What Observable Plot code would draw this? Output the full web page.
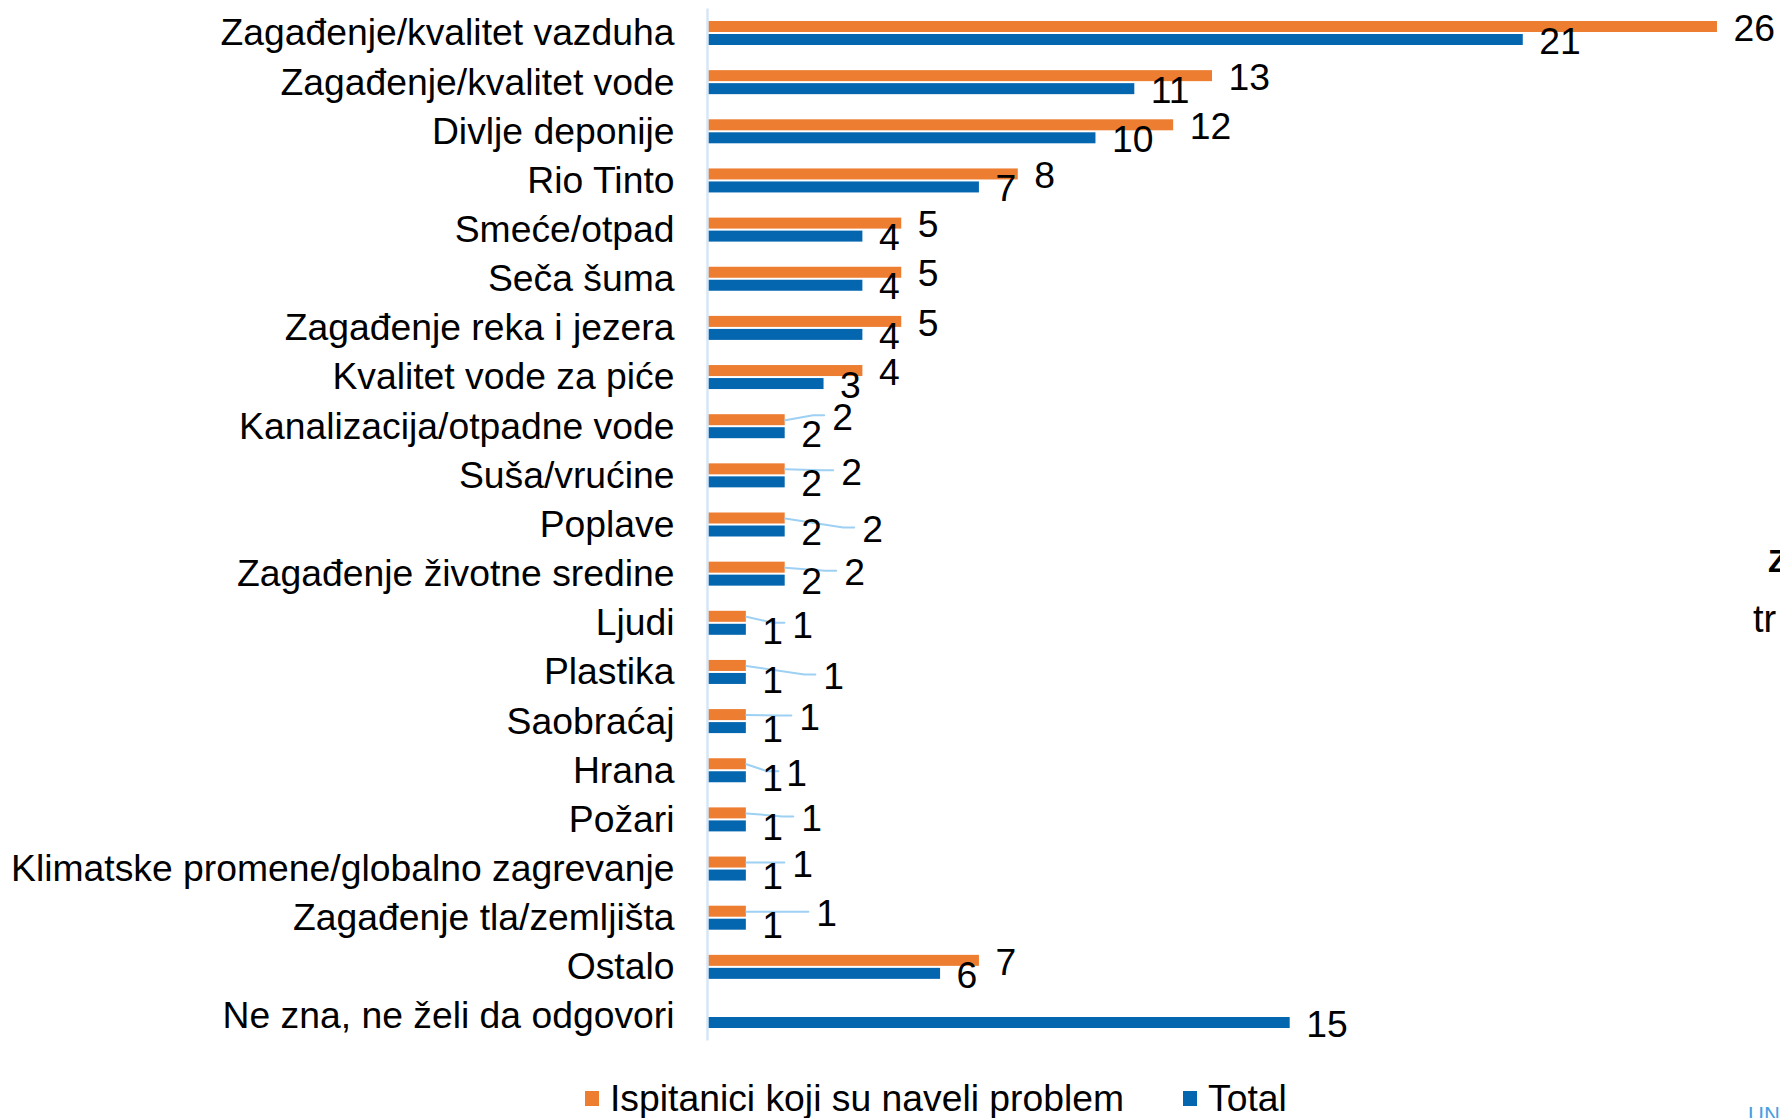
<!DOCTYPE html>
<html><head><meta charset="utf-8">
<script src="https://cdn.jsdelivr.net/npm/d3@7"></script>
<script src="https://cdn.jsdelivr.net/npm/@observablehq/plot@0.6"></script>
<style>
html,body{margin:0;padding:0;background:#fff;width:1780px;height:1118px;overflow:hidden;position:relative;font-family:Arial,"Liberation Sans",sans-serif;color:#000;}
#chart{position:absolute;left:0;top:0;}
.legend{position:absolute;top:1078px;left:585px;display:flex;align-items:center;font-size:37.3px;line-height:40px;white-space:nowrap;}
.sw{display:inline-block;width:14px;height:15px;margin-right:11px;}
.side{position:absolute;white-space:nowrap;}
</style></head><body>
<div id="chart"></div>
<div class="legend" id="legend"></div>
<div class="side" style="left:1768px;top:545px;font-size:32px;line-height:32px;font-weight:bold;">Z</div>
<div class="side" style="left:1753px;top:600px;font-size:38px;line-height:38px;">tr</div>
<div class="side" style="left:1748px;top:1104px;font-size:22px;line-height:22px;color:#4a9fe0;">UN</div>
<script>
const categories = [
  "Zagađenje/kvalitet vazduha",
  "Zagađenje/kvalitet vode",
  "Divlje deponije",
  "Rio Tinto",
  "Smeće/otpad",
  "Seča šuma",
  "Zagađenje reka i jezera",
  "Kvalitet vode za piće",
  "Kanalizacija/otpadne vode",
  "Suša/vrućine",
  "Poplave",
  "Zagađenje životne sredine",
  "Ljudi",
  "Plastika",
  "Saobraćaj",
  "Hrana",
  "Požari",
  "Klimatske promene/globalno zagrevanje",
  "Zagađenje tla/zemljišta",
  "Ostalo",
  "Ne zna, ne želi da odgovori"
];
const respondents = [26,13,12,8,5,5,5,4,2,2,2,2,1,1,1,1,1,1,1,7,null];
const total       = [21,11,10,7,4,4,4,3,2,2,2,2,1,1,1,1,1,1,1,6,15];
const seriesNames = ["Ispitanici koji su naveli problem","Total"];
const colors = ["#ED7D31","#0566B0"];
// layout: pixel nudges [dx, dy] for respondent labels moved aside with leader lines
const labelNudge = [[0,0],[0,0],[0,0],[0,0],[0,0],[0,0],[0,0],[0,0],
  [31,-4],[40,2],[61,10],[43,4],[30,7],[61,9.5],[37,1.4],[24,8],[39,4],[30,1],[54,1],[0,0],[0,0]];

const W = 1780, H = 1060, mL = 707, mR = 63;
const rowPx = 49.15, firstRow = 33;
const mT = firstRow - rowPx/2;
const mB = H - (firstRow + (categories.length - 0.5) * rowPx);
const xMax = 26;
const kx = (W - mL - mR) / xMax;
const ky = rowPx;
const FONT = 37.3;
const LY = 1.8; // small downward shift of value labels

const rows = categories.map((c, i) => ({i, c, o: respondents[i], t: total[i], n: labelNudge[i]}));
const oRows = rows.filter(d => d.o != null);

const leaders = [];
oRows.forEach(d => {
  const [nx, ny] = d.n;
  if (nx === 0 && ny === 0) return;
  const yS = d.i - 6.5/ky;
  const yE = d.i + (-6.5 + ny - 1)/ky;
  leaders.push({k: d.i, x: d.o, y: yS});
  leaders.push({k: d.i, x: d.o + (16 + nx - 19)/kx, y: yE});
  leaders.push({k: d.i, x: d.o + (16 + nx - 8)/kx, y: yE});
});

const chart = Plot.plot({
  width: W, height: H,
  marginLeft: mL, marginRight: mR, marginTop: mT, marginBottom: mB,
  x: {domain: [0, xMax], axis: null},
  y: {domain: [-0.5, categories.length - 0.5], reverse: true, axis: null},
  style: {fontFamily: 'Arial, "Liberation Sans", sans-serif', fontSize: FONT + "px", color: "#000", background: "#fff", overflow: "visible"},
  marks: [
    Plot.rect(oRows, {x1: 0, x2: "o", y1: d => d.i - 12/ky, y2: d => d.i - 1/ky, fill: colors[0]}),
    Plot.rect(rows, {x1: 0, x2: "t", y1: d => d.i + 1/ky, y2: d => d.i + 12/ky, fill: colors[1]}),
    Plot.ruleX([0], {y1: -0.5, y2: categories.length - 0.5, stroke: "#d6e6f5", strokeWidth: 2.5}),
    Plot.line(leaders, {x: "x", y: "y", z: "k", stroke: "#9dd0f3", strokeWidth: 2, curve: "linear"}),
    Plot.text(oRows, {x: d => d.o + (16 + d.n[0])/kx, y: d => d.i + (-6.5 + LY + d.n[1])/ky, text: d => String(d.o), textAnchor: "start", fontSize: FONT, fill: "#000"}),
    Plot.text(rows, {x: d => d.t + 16/kx, y: d => d.i + (6.5 + LY)/ky, text: d => String(d.t), textAnchor: "start", fontSize: FONT, fill: "#000"}),
    Plot.axisY(d3.range(categories.length), {tickFormat: i => categories[i], tickSize: 0, tickPadding: 33, fontSize: FONT, fill: "#000", anchor: "left", label: null})
  ]
});
document.getElementById("chart").appendChild(chart);

const lg = document.getElementById("legend");
seriesNames.forEach((name, j) => {
  const sw = document.createElement("span");
  sw.className = "sw";
  sw.style.background = colors[j];
  if (j > 0) sw.style.marginLeft = "59px";
  const tx = document.createElement("span");
  tx.textContent = name;
  lg.appendChild(sw);
  lg.appendChild(tx);
});
</script>
</body></html>
